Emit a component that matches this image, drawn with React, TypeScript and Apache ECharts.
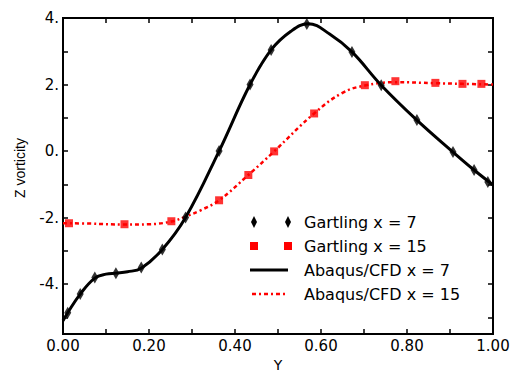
import React, { useEffect, useRef } from "react";
import * as echarts from "echarts";

const gartling7X = [0.011, 0.040, 0.074, 0.123, 0.182, 0.231, 0.285, 0.363, 0.435, 0.484, 0.567, 0.672, 0.740, 0.823, 0.907, 0.956, 0.988];
const gartling7Y = [-4.86, -4.30, -3.80, -3.67, -3.50, -2.96, -2.00, 0.00, 2.00, 3.04, 3.82, 2.98, 1.98, 0.93, -0.03, -0.57, -0.93];

const gartling15X = [0.014, 0.143, 0.252, 0.363, 0.431, 0.491, 0.584, 0.702, 0.773, 0.866, 0.929, 0.973];
const gartling15Y = [-2.17, -2.20, -2.11, -1.48, -0.72, -0.01, 1.13, 1.98, 2.10, 2.05, 2.02, 2.02];

const cfd7X = [0.000, 0.011, 0.040, 0.074, 0.100, 0.123, 0.150, 0.182, 0.231, 0.285, 0.363, 0.435, 0.484, 0.530, 0.570, 0.620, 0.672, 0.740, 0.823, 0.907, 0.956, 1.000];
const cfd7Y = [-5.10, -4.86, -4.30, -3.82, -3.70, -3.67, -3.63, -3.52, -2.96, -2.00, 0.00, 2.00, 3.04, 3.60, 3.83, 3.52, 2.98, 1.98, 0.93, -0.03, -0.57, -1.02];

const cfd15X = [0.000, 0.060, 0.143, 0.200, 0.252, 0.285, 0.320, 0.363, 0.431, 0.491, 0.584, 0.650, 0.702, 0.773, 0.866, 0.929, 1.000];
const cfd15Y = [-2.17, -2.18, -2.21, -2.20, -2.12, -1.97, -1.78, -1.48, -0.72, -0.01, 1.13, 1.75, 1.97, 2.07, 2.04, 2.02, 2.00];

const legendLabels = ["Gartling x = 7", "Gartling x = 15", "Abaqus/CFD x = 7", "Abaqus/CFD x = 15"];

const zip = (xs: number[], ys: number[]) => xs.map((x, i) => [x, ys[i]]);

export default function App() {
  const ref = useRef<HTMLDivElement>(null);
  useEffect(() => {
    if (!ref.current) return;
    const chart = echarts.init(ref.current, null, { renderer: "svg" });
    const font = "DejaVu Sans";
    const tickCommon = () => ({
      show: true,
      inside: true,
      length: 5,
      lineStyle: { color: "#000", width: 1.5 },
    });
    const lineOff = () => ({ show: false, onZero: false });
    const xLabel = (v: number) => {
      const t = Math.round(v * 10);
      return t % 2 === 0 ? (t / 10).toFixed(2) : "";
    };
    const yLabel = (v: number) => {
      if (Math.abs(v - Math.round(v)) > 1e-6) return "";
      const r = Math.round(v);
      return r % 2 === 0 ? r + "." : "";
    };
    const rowY = [222, 246, 270, 294];
    const diamond = (cx: number, cy: number) => ({
      type: "polygon",
      shape: { points: [[cx, cy - 6], [cx + 3, cy], [cx, cy + 6], [cx - 3, cy]] },
      style: { fill: "#000" },
    });
    const square = (cx: number, cy: number) => ({
      type: "rect",
      shape: { x: cx - 4, y: cy - 4, width: 8, height: 8 },
      style: { fill: "#ff0000" },
    });
    const graphics: any[] = [
      diamond(254, rowY[0]),
      diamond(288, rowY[0]),
      square(254, rowY[1]),
      square(288, rowY[1]),
      {
        type: "line",
        shape: { x1: 250, y1: rowY[2], x2: 288, y2: rowY[2] },
        style: { stroke: "#000", lineWidth: 3 },
      },
      {
        type: "line",
        shape: { x1: 252, y1: rowY[3], x2: 288, y2: rowY[3] },
        style: { stroke: "#ff0000", lineWidth: 2.5, lineDash: [4, 3, 2, 3] },
      },
      ...legendLabels.map((t, i) => ({
        type: "text",
        x: 304,
        y: rowY[i],
        style: {
          text: t,
          fill: "#000",
          font: `16px '${font}'`,
          verticalAlign: "middle",
          align: "left",
        },
      })),
      {
        type: "text",
        x: 20,
        y: 168,
        rotation: Math.PI / 2,
        style: {
          text: "Z vorticity",
          fill: "#000",
          font: "14px 'Liberation Sans'",
          align: "center",
          verticalAlign: "middle",
        },
      },
    ];
    chart.setOption({
      animation: false,
      grid: {
        left: 63, right: 23, top: 18, bottom: 49,
        show: true, borderColor: "#000", borderWidth: 2, backgroundColor: "transparent",
      },
      xAxis: [
        {
          type: "value",
          min: 0,
          max: 1,
          interval: 0.1,
          position: "bottom",
          axisLine: lineOff(),
          axisTick: tickCommon(),
          splitLine: { show: false },
          axisLabel: { formatter: xLabel, color: "#000", fontFamily: font, fontSize: 15, margin: 4 },
          name: "Y",
          nameLocation: "middle",
          nameGap: 22,
          nameTextStyle: { color: "#000", fontFamily: font, fontSize: 14 },
        },
        {
          type: "value",
          min: 0,
          max: 1,
          interval: 0.1,
          position: "top",
          axisLine: lineOff(),
          axisTick: tickCommon(),
          splitLine: { show: false },
          axisLabel: { show: false },
        },
      ],
      yAxis: [
        {
          type: "value",
          min: -5.5,
          max: 4,
          splitNumber: 10,
          position: "left",
          axisLine: lineOff(),
          axisTick: tickCommon(),
          splitLine: { show: false },
          axisLabel: { formatter: yLabel, color: "#000", fontFamily: font, fontSize: 15, margin: 4 },
        },
        {
          type: "value",
          min: -5.5,
          max: 4,
          splitNumber: 10,
          position: "right",
          axisLine: lineOff(),
          axisTick: tickCommon(),
          splitLine: { show: false },
          axisLabel: { show: false },
        },
      ],
      graphic: graphics,
      series: [
        {
          name: "Abaqus/CFD x = 15",
          type: "line",
          data: zip(cfd15X, cfd15Y),
          smooth: 0.4,
          symbol: "none",
          lineStyle: { color: "#ff0000", width: 2.5, type: [4, 3, 2, 3] },
          z: 2,
        },
        {
          name: "Abaqus/CFD x = 7",
          type: "line",
          data: zip(cfd7X, cfd7Y),
          smooth: 0.4,
          symbol: "none",
          lineStyle: { color: "#000", width: 3 },
          z: 3,
        },
        {
          name: "Gartling x = 15",
          type: "scatter",
          data: zip(gartling15X, gartling15Y),
          symbol: "rect",
          symbolSize: 8,
          itemStyle: { color: "#ff0000" },
          z: 4,
        },
        {
          name: "Gartling x = 7",
          type: "scatter",
          data: zip(gartling7X, gartling7Y),
          symbol: "diamond",
          symbolSize: [7, 12],
          itemStyle: { color: "#000" },
          z: 5,
        },
      ],
    });
    return () => chart.dispose();
  }, []);
  return <div ref={ref} style={{ width: 516, height: 383, position: "absolute", left: 0, top: 0 }} />;
}
